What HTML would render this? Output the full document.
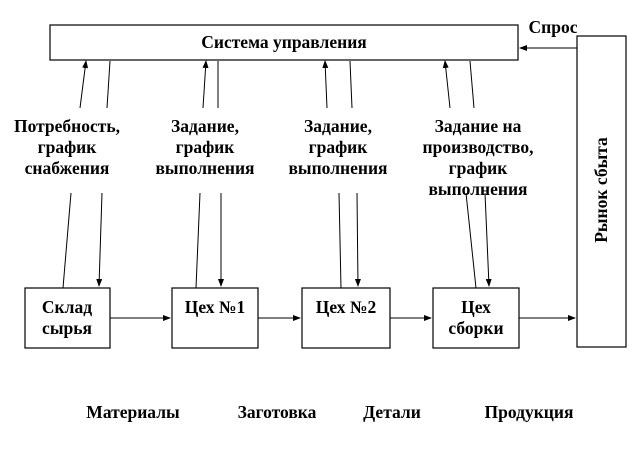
<!DOCTYPE html>
<html><head><meta charset="utf-8"><style>
html,body{margin:0;padding:0;background:#fff;}
svg text{font-family:"Liberation Serif","Noto Serif CJK SC",serif;font-weight:bold;font-size:17.5px;fill:#000;}
</style></head><body>
<svg width="638" height="444" viewBox="0 0 638 444" xmlns="http://www.w3.org/2000/svg">
<defs><marker id="a" markerWidth="8" markerHeight="8" refX="7" refY="4" orient="auto" markerUnits="userSpaceOnUse"><path d="M0,1 L8,4 L0,7 z" fill="#000"/></marker></defs>
<g fill="#fff" stroke="#000" stroke-width="1.2">
<rect x="50" y="25" width="468" height="35"/>
<rect x="577" y="36" width="49" height="311"/>
<rect x="25" y="288" width="85" height="60"/>
<rect x="172" y="288" width="86" height="60"/>
<rect x="302" y="288" width="88" height="60"/>
<rect x="433" y="288" width="86" height="60"/>
</g>
<g stroke="#000" stroke-width="1" fill="none">
<line x1="110" y1="318" x2="170" y2="318" marker-end="url(#a)"/>
<line x1="258" y1="318" x2="300" y2="318" marker-end="url(#a)"/>
<line x1="390" y1="318" x2="431" y2="318" marker-end="url(#a)"/>
<line x1="519" y1="318" x2="575" y2="318" marker-end="url(#a)"/>
<line x1="577" y1="48" x2="520" y2="48" marker-end="url(#a)"/>
<line x1="80" y1="108" x2="86" y2="61" marker-end="url(#a)"/>
<line x1="63" y1="288" x2="71" y2="193"/>
<line x1="203" y1="108" x2="206" y2="61" marker-end="url(#a)"/>
<line x1="196" y1="288" x2="200" y2="193"/>
<line x1="327" y1="108" x2="325" y2="61" marker-end="url(#a)"/>
<line x1="341" y1="288" x2="339" y2="193"/>
<line x1="450" y1="108" x2="445" y2="61" marker-end="url(#a)"/>
<line x1="476" y1="288" x2="466" y2="193"/>
<line x1="110" y1="61" x2="107" y2="108"/>
<line x1="102" y1="193" x2="99" y2="286" marker-end="url(#a)"/>
<line x1="218" y1="61" x2="218" y2="108"/>
<line x1="221" y1="193" x2="221" y2="286" marker-end="url(#a)"/>
<line x1="350" y1="61" x2="352" y2="108"/>
<line x1="357" y1="193" x2="358" y2="286" marker-end="url(#a)"/>
<line x1="470" y1="61" x2="474" y2="108"/>
<line x1="485" y1="193" x2="489" y2="286" marker-end="url(#a)"/>
</g>
<g text-anchor="middle">
<text x="284" y="48">Система управления</text>
<text x="553" y="33">Спрос</text>
<text x="67" y="132">Потребность,</text>
<text x="67" y="153">график</text>
<text x="67" y="174">снабжения</text>
<text x="205" y="132">Задание,</text>
<text x="205" y="153">график</text>
<text x="205" y="174">выполнения</text>
<text x="338" y="132">Задание,</text>
<text x="338" y="153">график</text>
<text x="338" y="174">выполнения</text>
<text x="478" y="132">Задание на</text>
<text x="478" y="153">производство,</text>
<text x="478" y="174">график</text>
<text x="478" y="195">выполнения</text>
<text x="67" y="313">Склад</text>
<text x="67" y="334">сырья</text>
<text x="215" y="313">Цех №1</text>
<text x="346" y="313">Цех №2</text>
<text x="476" y="313">Цех</text>
<text x="476" y="334">сборки</text>
<text x="133" y="418">Материалы</text>
<text x="277" y="418">Заготовка</text>
<text x="392" y="418">Детали</text>
<text x="529" y="418">Продукция</text>
<text transform="translate(607,190) rotate(-90)">Рынок сбыта</text>
</g>
</svg>
</body></html>
